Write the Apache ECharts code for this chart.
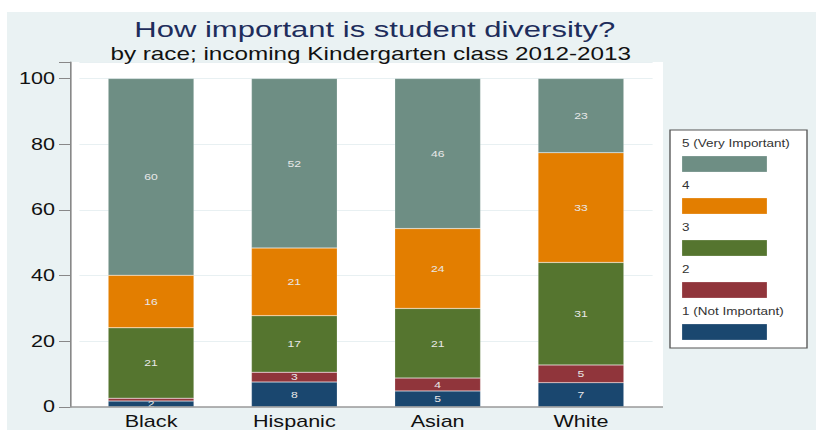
<!DOCTYPE html>
<html>
<head>
<meta charset="utf-8">
<script src="https://cdn.jsdelivr.net/npm/echarts@6/dist/echarts.min.js"></script>
<style>
html,body{margin:0;padding:0;background:#fff;overflow:hidden;}
/* 原图是横向拉伸过的，这里按同样比例横向缩放 */
#chart{width:605px;height:434px;transform:scaleX(1.34876);transform-origin:0 0;}
</style>
</head>
<body>
<div id="chart"></div>
<script>
// 类别
var categories = ['Black', 'Hispanic', 'Asian', 'White'];
// 各评分的百分比（自下而上）
var notImportant = [1.8, 7.6, 4.9, 7.4];
var level2 = [0.9, 3.0, 3.9, 5.4];
var level3 = [21.4, 17.2, 21.2, 31.2];
var level4 = [16.0, 20.6, 24.3, 33.4];
var veryImportant = [59.9, 51.6, 45.7, 22.6];
var yTicks = [0, 20, 40, 60, 80, 100];

var seriesNames = ['1 (Not Important)', '2', '3', '4', '5 (Very Important)'];
var seriesData = [notImportant, level2, level3, level4, veryImportant];
var colors = ['#1a476f', '#90353b', '#55752f', '#e37e00', '#6e8e84'];

var S = 816 / 605; // 横向拉伸比例，px(原图) -> 画布坐标
function sx(x) { return x / S; }

var myChart = echarts.init(document.getElementById('chart'), null, {renderer: 'svg'});

var series = [];
for (var i = 0; i < seriesNames.length; i++) {
	series.push({
		name: seriesNames[i],
		type: 'bar',
		stack: 'total',
		barWidth: '60%',
		data: seriesData[i],
		itemStyle: {color: colors[i], borderColor: 'rgba(255,255,255,0.35)', borderWidth: 0.5},
		label: {
			show: true,
			position: 'inside',
			color: '#e8e8e8',
			fontSize: 9,
			fontFamily: 'Liberation Sans',
			formatter: function (p) { return p.value < 1 ? '' : String(Math.round(p.value)); }
		}
	});
}

// 背景、绘图区白底、图例（文字在色块上方）
var graphics = [
	{type: 'rect', z: -10, shape: {x: sx(7), y: 12, width: sx(809), height: 418}, style: {fill: '#eaf2f3'}, silent: true},
	{type: 'rect', z: -9, shape: {x: sx(70), y: 62, width: sx(593), height: 345}, style: {fill: '#ffffff'}, silent: true},
	{type: 'line', z: 5, shape: {x1: sx(70), y1: 407, x2: sx(663), y2: 407}, style: {stroke: '#9a9a9a', lineWidth: 1.5}, silent: true},
	{type: 'rect', shape: {x: sx(670), y: 130, width: sx(137), height: 218}, style: {fill: '#ffffff', stroke: '#555', lineWidth: 1}, silent: true}
];
for (var k = 0; k < seriesNames.length; k++) {
	var idx = seriesNames.length - 1 - k;
	var legY = 144 + k * 42;
	graphics.push({type: 'text', x: sx(682), y: legY, style: {text: seriesNames[idx], fill: '#333', fontSize: 10, fontFamily: 'Liberation Sans', verticalAlign: 'middle'}, silent: true});
	graphics.push({type: 'rect', shape: {x: sx(682), y: legY + 12, width: sx(85), height: 16}, style: {fill: colors[idx], stroke: 'rgba(255,255,255,0.4)', lineWidth: 0.5}, silent: true});
}

var option = {
	animation: false,
	textStyle: {fontFamily: 'Liberation Sans'},
	title: [
		{text: 'How important is student diversity?', left: sx(368), top: 12, textAlign: 'center',
			textStyle: {color: '#1e2d5c', fontSize: 23, fontWeight: 'normal'}},
		{text: 'by race; incoming Kindergarten class 2012-2013', left: sx(364), top: 40, textAlign: 'center',
			textStyle: {color: '#111', fontSize: 18, fontWeight: 'normal'}}
	],
	grid: {left: sx(79.4), right: 605 - sx(652.6), top: 62, bottom: 27},
	xAxis: {
		type: 'category',
		data: categories,
		axisLine: {show: false},
		axisTick: {show: false},
		axisLabel: {color: '#111', fontSize: 16, margin: 7}
	},
	yAxis: {
		type: 'value',
		min: 0,
		max: 105,
		interval: 20,
		offset: sx(9.4),
		axisLine: {show: true, lineStyle: {color: '#888', width: 1.2}},
		axisTick: {show: true, length: sx(11), lineStyle: {color: '#888'}},
		axisLabel: {
			color: '#111', fontSize: 16, margin: sx(15),
			formatter: function (v) { return yTicks.indexOf(v) >= 0 ? String(v) : ''; }
		},
		splitLine: {show: true, lineStyle: {color: '#e8f0f2', width: 1}}
	},
	graphic: graphics,
	series: series
};
myChart.setOption(option);
</script>
</body>
</html>
